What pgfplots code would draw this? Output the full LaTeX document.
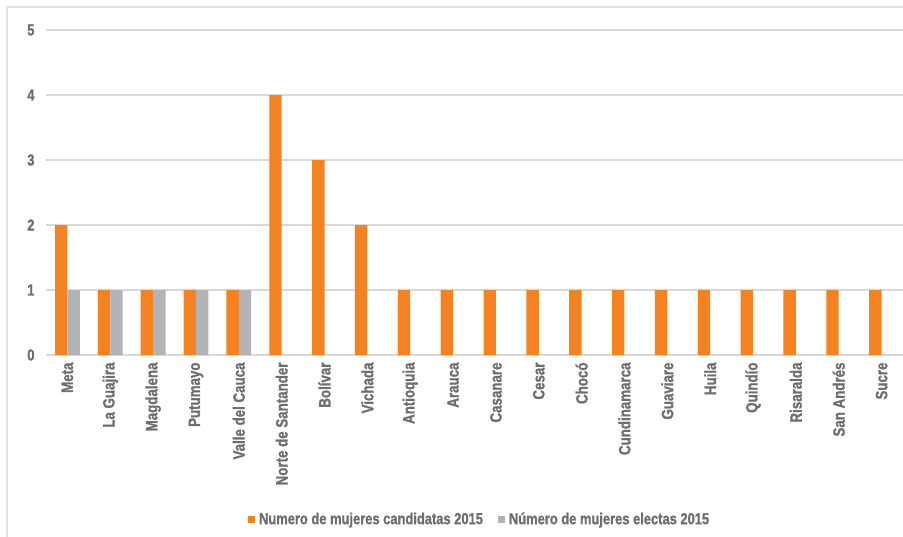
\documentclass[border=0pt]{standalone}
\usepackage{fontspec}
\setmainfont{Liberation Sans Bold}[FakeStretch=0.81, FakeBold=1.2]
\usepackage{pgfplots}
\pgfplotsset{compat=1.18}
\definecolor{cOr}{HTML}{F58220}
\definecolor{cGr}{HTML}{B1B3B6}
\definecolor{cTx}{HTML}{6D6E71}
\definecolor{cGd}{HTML}{D9D9D9}
\begin{document}
\begin{tikzpicture}
\useasboundingbox (0,0) rectangle (903bp,-537bp);
\draw[cGd!80, line width=2bp] (6.5bp,-540bp) -- (6.5bp,-6.5bp) -- (906bp,-6.5bp);
\begin{axis}[
  at={(46bp,-355bp)}, anchor=south west,
  scale only axis, width=857bp, height=325bp,
  ymin=0, ymax=5, ytick={0,1,2,3,4,5},
  xmin=-0.5, xmax=19.5,
  axis line style={draw=none},
  ymajorgrids, grid style={cGd, line width=1.3bp},
  major tick length=0pt,
  xtick={0,...,19},
  xticklabels={Meta,La Guajira,Magdalena,Putumayo,Valle del Cauca,Norte de Santander,Bolívar,Vichada,Antioquia,Arauca,Casanare,Cesar,Chocó,Cundinamarca,Guaviare,Huila,Quindío,Risaralda,San Andrés,Sucre},
  x tick label style={rotate=90, anchor=east, font=\fontsize{16.5}{18}\selectfont, text=cTx},
  y tick label style={font=\fontsize{16}{18}\selectfont, text=cTx},
  xticklabel shift=4bp, yticklabel shift=8bp,
  /pgf/number format/assume math mode=true,
  ybar=0pt, bar width=12.4bp,
  legend columns=2,
  legend style={at={(0.506,-0.505)}, anchor=center, draw=none, fill=none,
    font=\fontsize{16}{18}\selectfont, text=cTx,
    /tikz/every even column/.append style={column sep=13bp}},
  legend image code/.code={\path (0bp,0bp) -- (9bp,0bp);\fill[#1,draw=none] (0bp,-3.5bp) rectangle (7bp,3.5bp);},
]
\addplot[fill=cOr, draw=none] coordinates {(0,2)(1,1)(2,1)(3,1)(4,1)(5,4)(6,3)(7,2)(8,1)(9,1)(10,1)(11,1)(12,1)(13,1)(14,1)(15,1)(16,1)(17,1)(18,1)(19,1)};
\addplot[fill=cGr, draw=none] coordinates {(0,1)(1,1)(2,1)(3,1)(4,1)};
\legend{Numero de mujeres candidatas 2015,Número de mujeres electas 2015}
\end{axis}
\end{tikzpicture}
\end{document}
